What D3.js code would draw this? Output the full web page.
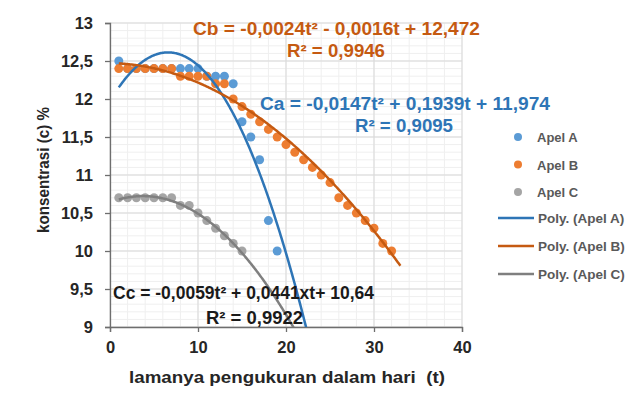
<!DOCTYPE html>
<html>
<head>
<meta charset="utf-8">
<script src="https://cdn.jsdelivr.net/npm/d3@7"></script>
<style>
  html, body { margin: 0; padding: 0; background: #fff; }
  svg { display: block; font-family: "Liberation Sans", Arial, sans-serif; font-weight: bold; }
</style>
</head>
<body>
<svg id="chart" width="638" height="401"></svg>
<script>
// Measured concentration (%) per day of storage
const daysA = d3.range(1, 20);
const apelA = [12.5, 12.4, 12.4, 12.4, 12.4, 12.4, 12.4, 12.4, 12.4, 12.4,
               12.3, 12.3, 12.3, 12.2, 11.7, 11.5, 11.2, 10.4, 10.0];
const daysB = d3.range(1, 33);
const apelB = [12.4, 12.4, 12.4, 12.4, 12.4, 12.4, 12.4, 12.3, 12.3, 12.3,
               12.3, 12.2, 12.2, 12.0, 11.9, 11.8, 11.7, 11.6, 11.5, 11.4,
               11.3, 11.2, 11.1, 11.0, 10.9, 10.7, 10.6, 10.5, 10.4, 10.3,
               10.1, 10.0];
const daysC = d3.range(1, 16);
const apelC = [10.7, 10.7, 10.7, 10.7, 10.7, 10.7, 10.7, 10.6, 10.6, 10.5,
               10.4, 10.3, 10.2, 10.1, 10.0];

// Polynomial (order 2) trendline coefficients [a, b, c] for a*t^2 + b*t + c
const coefA = [-0.0147, 0.1939, 11.974];
const coefB = [-0.0024, -0.0016, 12.472];
const coefC = [-0.0059, 0.0441, 10.64];
const trendEndB = 33; // forecast one period forward

const seriesNames = ["Apel A", "Apel B", "Apel C"];
const trendNames = ["Poly. (Apel A)", "Poly. (Apel B)", "Poly. (Apel C)"];

const xTicks = [0, 10, 20, 30, 40];
const yTicks = [9, 9.5, 10, 10.5, 11, 11.5, 12, 12.5, 13];

const eqA = ["Ca = -0,0147t² + 0,1939t + 11,974", "R² = 0,9095"];
const eqB = ["Cb = -0,0024t² - 0,0016t + 12,472", "R² = 0,9946"];
const eqC = ["Cc = -0,0059t² + 0,0441xt+ 10,64", "R² = 0,9922"];

const pointColors = ["#5B9BD5", "#ED7D31", "#A5A5A5"];
const lineColors = ["#2E75B6", "#C55A11", "#7F7F7F"];

const svg = d3.select("#chart");
const x = d3.scaleLinear().domain([0, 40]).range([110, 462]);
const y = d3.scaleLinear().domain([9, 13]).range([327, 23]);

// gridlines: minor then major
const grid = svg.append("g");
grid.selectAll(".vminor").data(d3.range(0, 40.01, 2)).join("line")
  .attr("x1", d => x(d)).attr("x2", d => x(d))
  .attr("y1", y(9)).attr("y2", y(13))
  .attr("stroke", "#EFEFEF").attr("stroke-width", 1);
grid.selectAll(".hminor").data(d3.range(90, 130.1, 1).map(d => d / 10)).join("line")
  .attr("y1", d => y(d)).attr("y2", d => y(d))
  .attr("x1", x(0)).attr("x2", x(40))
  .attr("stroke", "#EFEFEF").attr("stroke-width", 1);
grid.selectAll(".vmajor").data(xTicks).join("line")
  .attr("x1", d => x(d)).attr("x2", d => x(d))
  .attr("y1", y(9)).attr("y2", y(13))
  .attr("stroke", "#D9D9D9").attr("stroke-width", 1);
grid.selectAll(".hmajor").data(yTicks).join("line")
  .attr("y1", d => y(d)).attr("y2", d => y(d))
  .attr("x1", x(0)).attr("x2", x(40))
  .attr("stroke", "#D9D9D9").attr("stroke-width", 1);

// axes
const fmt = d => String(d).replace(".", ",");
const xAxis = svg.append("g").attr("transform", `translate(0,${y(9)})`)
  .call(d3.axisBottom(x).tickValues(xTicks).tickSize(5).tickPadding(9).tickFormat(fmt));
const yAxis = svg.append("g").attr("transform", `translate(${x(0)},0)`)
  .call(d3.axisLeft(y).tickValues(yTicks).tickSize(5).tickPadding(12).tickFormat(fmt));
[xAxis, yAxis].forEach(a => {
  a.select(".domain").attr("stroke", "#6E6E6E").attr("stroke-width", 1.3);
  a.selectAll(".tick line").attr("stroke", "#6E6E6E").attr("stroke-width", 1.3);
  a.selectAll(".tick text").attr("fill", "#262626")
    .style("font-family", "'Liberation Sans', Arial, sans-serif")
    .style("font-weight", "bold").style("font-size", "16.5px");
});

// axis titles
svg.append("text").attr("x", 287).attr("y", 383).attr("text-anchor", "middle")
  .attr("fill", "#262626").style("font-size", "17px").style("white-space", "pre")
  .attr("textLength", 316).attr("lengthAdjust", "spacingAndGlyphs")
  .text("lamanya pengukuran dalam hari  (t)");
svg.append("text").attr("transform", "translate(49,170) rotate(-90)").attr("text-anchor", "middle")
  .attr("fill", "#262626").style("font-size", "16.5px")
  .attr("textLength", 126).attr("lengthAdjust", "spacingAndGlyphs")
  .text("konsentrasi (c) %");

// scatter points
const series = [
  { t: daysA, v: apelA },
  { t: daysB, v: apelB },
  { t: daysC, v: apelC }
];
series.forEach((s, i) => {
  svg.append("g").selectAll("circle").data(s.t.map((t, k) => [t, s.v[k]])).join("circle")
    .attr("cx", d => x(d[0])).attr("cy", d => y(d[1])).attr("r", 4.5)
    .attr("fill", pointColors[i]);
});

// trendlines, clipped to the plot area
svg.append("clipPath").attr("id", "plotClip").append("rect")
  .attr("x", x(0)).attr("y", y(13)).attr("width", x(40) - x(0)).attr("height", y(9) - y(13));
const poly = c => t => c[0] * t * t + c[1] * t + c[2];
const trends = [
  { f: poly(coefA), end: daysA[daysA.length - 1] + 4 },
  { f: poly(coefB), end: trendEndB },
  { f: poly(coefC), end: daysC[daysC.length - 1] + 7 }
];
const line = d3.line().x(d => x(d[0])).y(d => y(d[1]));
trends.forEach((tr, i) => {
  const pts = d3.range(1, tr.end + 0.001, 0.1).map(t => [t, tr.f(t)]);
  svg.append("path").attr("d", line(pts)).attr("fill", "none")
    .attr("stroke", lineColors[i]).attr("stroke-width", 2.5)
    .attr("clip-path", "url(#plotClip)");
});

// trendline equations
function label(txt, xx, yy, len, color) {
  svg.append("text").attr("x", xx).attr("y", yy).attr("fill", color)
    .style("font-size", "18px").attr("textLength", len).attr("lengthAdjust", "spacingAndGlyphs")
    .text(txt);
}
label(eqB[0], 193, 35, 287, "#C55A11");
label(eqB[1], 287, 57, 98, "#C55A11");
label(eqA[0], 260, 110, 290, "#2E75B6");
label(eqA[1], 355, 132, 98, "#2E75B6");
label(eqC[0], 113, 299, 261, "#1A1A1A");
label(eqC[1], 206, 324, 97, "#1A1A1A");

// legend
const lg = svg.append("g");
seriesNames.forEach((n, i) => {
  const yy = 137 + i * 27.5;
  lg.append("circle").attr("cx", 518).attr("cy", yy).attr("r", 4).attr("fill", pointColors[i]);
  lg.append("text").attr("x", 537).attr("y", yy + 5).attr("fill", "#595959")
    .style("font-size", "13px").text(n);
});
trendNames.forEach((n, i) => {
  const yy = 218 + i * 28;
  lg.append("line").attr("x1", 498).attr("x2", 534).attr("y1", yy).attr("y2", yy)
    .attr("stroke", lineColors[i]).attr("stroke-width", 2.5);
  lg.append("text").attr("x", 538).attr("y", yy + 5).attr("fill", "#595959")
    .style("font-size", "13.5px").text(n);
});
</script>
</body>
</html>
